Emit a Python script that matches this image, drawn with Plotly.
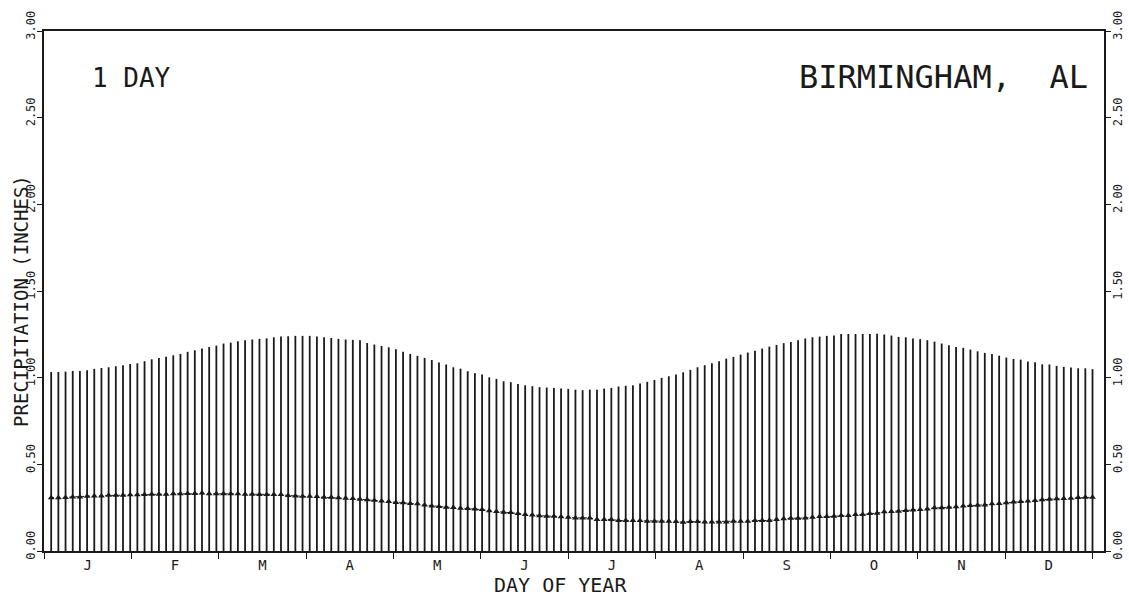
import plotly.graph_objects as go

# ---- data ----
days = [2.5 * i for i in range(1, 147)]  # one bar every 2.5 days

upper = [
    1.033, 1.033, 1.035, 1.039, 1.039, 1.043, 1.051, 1.056, 1.060, 1.066, 1.072, 1.079, 1.083,
    1.095, 1.106, 1.114, 1.120, 1.129, 1.137, 1.149, 1.158, 1.168, 1.177, 1.185, 1.197, 1.202,
    1.210, 1.216, 1.220, 1.224, 1.227, 1.233, 1.237, 1.239, 1.241, 1.241, 1.241,
    1.237, 1.233, 1.229, 1.224, 1.220, 1.218, 1.216, 1.200, 1.191, 1.183, 1.175, 1.164, 1.149,
    1.137, 1.126, 1.114, 1.102, 1.087, 1.076, 1.060, 1.052, 1.037, 1.026, 1.018, 1.002, 0.993,
    0.979, 0.974, 0.964, 0.956, 0.951, 0.945, 0.943, 0.941, 0.937, 0.935, 0.931,
    0.928, 0.931, 0.931, 0.937, 0.941, 0.949, 0.953, 0.956, 0.966, 0.976, 0.987, 0.999, 1.008,
    1.018, 1.031, 1.045, 1.060, 1.072, 1.083, 1.095, 1.110, 1.120, 1.133, 1.145, 1.156, 1.168,
    1.179, 1.189, 1.199, 1.206, 1.216, 1.226, 1.233, 1.237, 1.241, 1.243,
    1.252, 1.252, 1.252, 1.252, 1.252, 1.254, 1.249, 1.243, 1.235, 1.233, 1.226, 1.222, 1.216,
    1.208, 1.197, 1.187, 1.177, 1.172, 1.162, 1.152, 1.143, 1.137, 1.127, 1.116, 1.108, 1.104,
    1.093, 1.089, 1.077, 1.076, 1.068, 1.062, 1.058, 1.054, 1.054, 1.049,
]

mean = [
    0.307, 0.307, 0.309, 0.312, 0.312, 0.316, 0.318, 0.318, 0.322, 0.322, 0.322, 0.324, 0.324,
    0.326, 0.328, 0.328, 0.328, 0.330, 0.330, 0.332, 0.332, 0.334, 0.330, 0.330, 0.330, 0.330,
    0.330, 0.328, 0.328, 0.326, 0.326, 0.326, 0.326, 0.320, 0.318, 0.316, 0.316,
    0.314, 0.310, 0.310, 0.307, 0.305, 0.303, 0.299, 0.295, 0.293, 0.289, 0.285, 0.280, 0.278,
    0.274, 0.272, 0.266, 0.260, 0.257, 0.253, 0.251, 0.247, 0.245, 0.243, 0.239, 0.232, 0.228,
    0.224, 0.222, 0.216, 0.210, 0.207, 0.203, 0.201, 0.201, 0.197, 0.195, 0.191,
    0.191, 0.191, 0.182, 0.182, 0.182, 0.176, 0.176, 0.176, 0.176, 0.172, 0.172, 0.172, 0.172,
    0.170, 0.166, 0.170, 0.170, 0.168, 0.168, 0.168, 0.168, 0.172, 0.172, 0.172, 0.176, 0.176,
    0.176, 0.182, 0.186, 0.189, 0.189, 0.191, 0.195, 0.199, 0.199, 0.201,
    0.205, 0.205, 0.210, 0.210, 0.216, 0.218, 0.226, 0.228, 0.230, 0.234, 0.237, 0.239, 0.243,
    0.249, 0.249, 0.253, 0.255, 0.259, 0.262, 0.264, 0.266, 0.272, 0.274, 0.278, 0.282, 0.285,
    0.289, 0.291, 0.295, 0.299, 0.301, 0.303, 0.305, 0.309, 0.310, 0.310,
]

month_labels = ["J", "F", "M", "A", "M", "J", "J", "A", "S", "O", "N", "D"]
month_len = 365 / 12
month_edges = [month_len * i for i in range(13)]
month_mids = [month_len * (i + 0.5) for i in range(12)]

y_ticks = [0.0, 0.5, 1.0, 1.5, 2.0, 2.5, 3.0]
y_ticktext = ["0.00", "0.50", "1.00", "1.50", "2.00", "2.50", "3.00"]

title_left = "1 DAY"
title_right = "BIRMINGHAM,\u00a0\u00a0AL"
x_title = "DAY OF YEAR"
y_title = "PRECIPITATION (INCHES)"

INK = "#1a1a1a"
FONT = "DejaVu Sans Mono"

# vertical lines from 0 to the upper value, one segment per day
seg_x, seg_y = [], []
for d, u in zip(days, upper):
    seg_x += [d, d, None]
    seg_y += [0, u, None]

fig = go.Figure()
fig.add_trace(go.Scatter(
    x=seg_x, y=seg_y, mode="lines",
    line=dict(color=INK, width=1.8),
    hoverinfo="skip", showlegend=False,
))
fig.add_trace(go.Scatter(
    x=days, y=mean, mode="lines+markers",
    line=dict(color=INK, width=1, dash="dot"),
    marker=dict(symbol="triangle-up", size=6, color=INK),
    showlegend=False,
))
# invisible trace to activate the right-hand axis
fig.add_trace(go.Scatter(x=[days[0]], y=[0], yaxis="y2", mode="markers",
                         marker=dict(opacity=0), showlegend=False, hoverinfo="skip"))

yax_common = dict(
    range=[0, 3], tickmode="array", tickvals=y_ticks, ticktext=y_ticktext,
    ticks="outside", ticklen=5, tickwidth=1.2, tickcolor=INK,
    tickangle=-90, ticklabelshift=-4, ticklabelstandoff=-3,
    tickfont=dict(family=FONT, size=12, color=INK),
    showline=True, linecolor=INK, linewidth=1.5,
    showgrid=False, zeroline=False, fixedrange=True, automargin=False,
)

fig.update_layout(
    width=1129, height=601,
    margin=dict(l=44, r=25, t=31, b=50, autoexpand=False),
    paper_bgcolor="white", plot_bgcolor="white",
    xaxis=dict(
        range=[0, 369],
        tickmode="array", tickvals=month_mids, ticktext=month_labels,
        ticks="", ticklen=0,
        tickfont=dict(family=FONT, size=14, color=INK),
        minor=dict(tickmode="array", tickvals=month_edges, ticks="outside",
                   ticklen=6, tickwidth=1.2, tickcolor=INK, showgrid=False),
        showline=True, linecolor=INK, linewidth=1.5, mirror=True,
        showgrid=False, zeroline=False, fixedrange=True, automargin=False,
    ),
    yaxis=dict(side="left", **yax_common),
    yaxis2=dict(side="right", overlaying="y", **yax_common),
    annotations=[
        dict(text=title_left, xref="paper", yref="paper", x=0.0434, y=0.9096,
             xanchor="left", yanchor="middle", showarrow=False,
             font=dict(family=FONT, size=26, color=INK)),
        dict(text=title_right, xref="paper", yref="paper", x=0.9868, y=0.911,
             xanchor="right", yanchor="middle", showarrow=False,
             font=dict(family=FONT, size=32, color=INK)),
        dict(text=x_title, xref="paper", yref="paper", x=0.4877, y=-0.0654,
             xanchor="center", yanchor="middle", showarrow=False,
             font=dict(family=FONT, size=20, color=INK)),
        dict(text=y_title, xref="paper", yref="paper", x=-0.0217, y=0.481,
             xanchor="center", yanchor="middle", showarrow=False, textangle=-90,
             font=dict(family=FONT, size=19, color=INK)),
    ],
)

fig.write_html(
    "out.html",
    config={"displayModeBar": False},
    post_script="document.body.style.margin='0';document.body.style.overflow='hidden';",
)
